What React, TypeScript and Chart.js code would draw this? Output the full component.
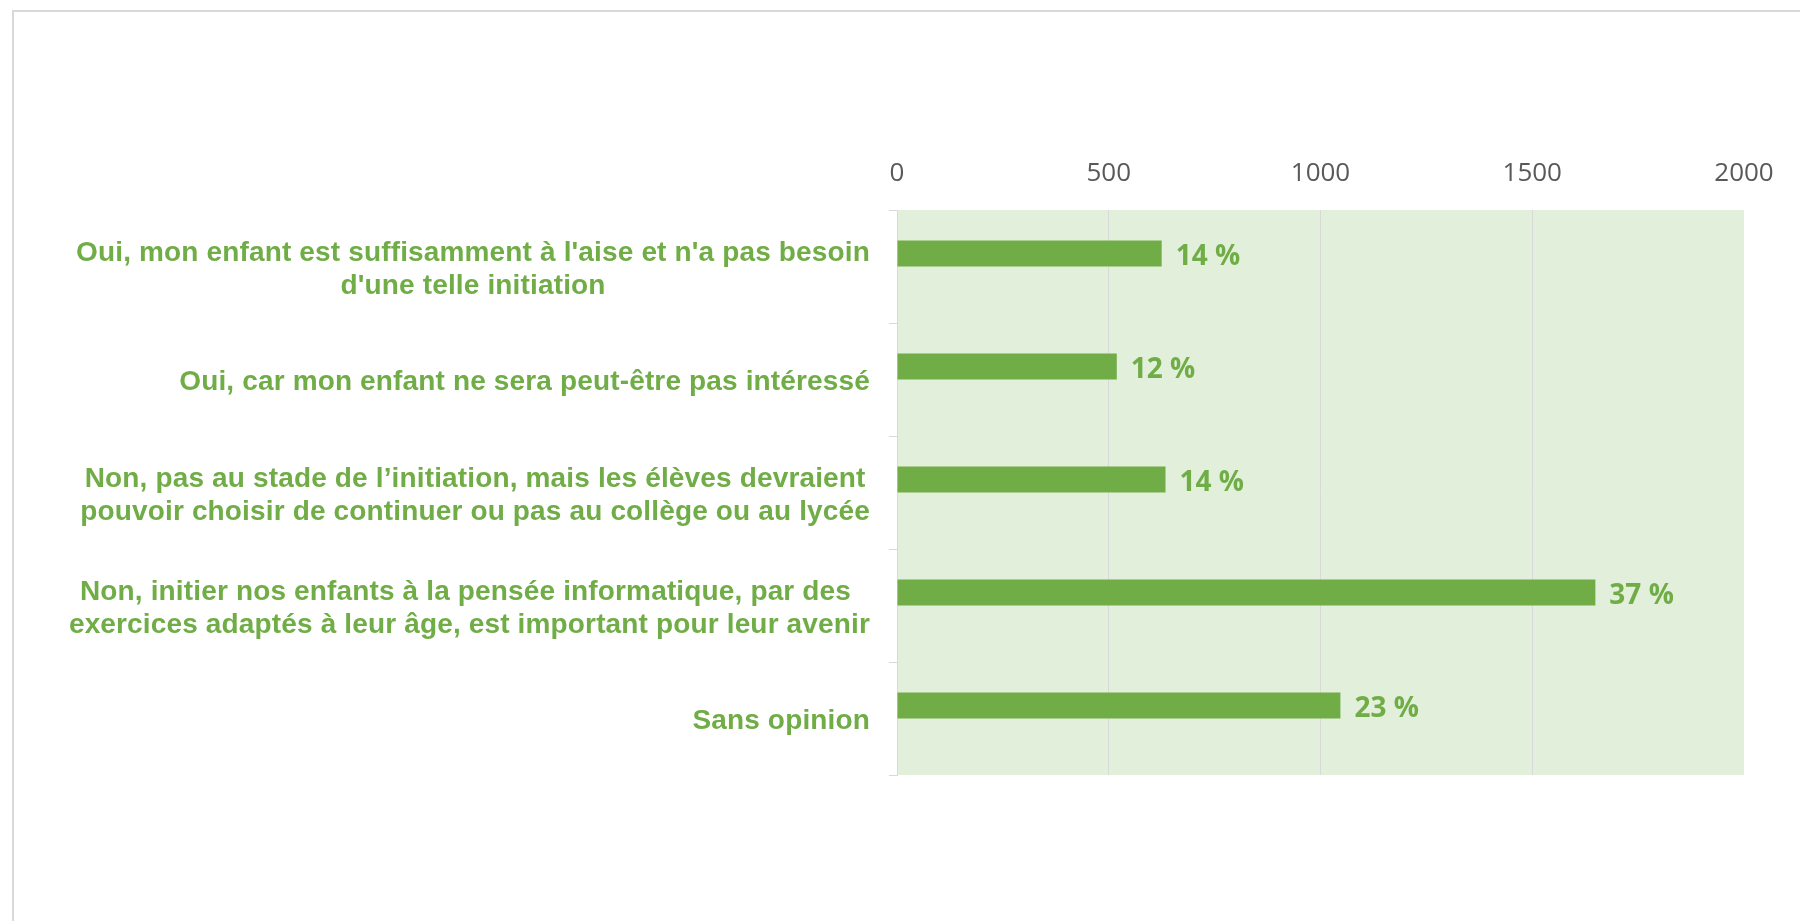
import React, { useEffect, useRef } from "react";
import { Chart, registerables } from "chart.js";

Chart.register(...registerables);

// Categories (each entry = lines of the label)
const categoryLines: string[][] = [
  ["Oui, mon enfant est suffisamment à l'aise et n'a pas besoin", "d'une telle initiation"],
  ["Oui, car mon enfant ne sera peut-être pas intéressé"],
  ["Non, pas au stade de l’initiation, mais les élèves devraient", "pouvoir choisir de continuer ou pas au collège ou au lycée"],
  ["Non, initier nos enfants à la pensée informatique, par des ", "exercices adaptés à leur âge, est important pour leur avenir"],
  ["Sans opinion"],
];
const categories = categoryLines.map((l) => l.join(" "));

// Number of responses per category
const responses = [625, 519, 634, 1649, 1047];
// Empty companion series (keeps bars in the upper half of each category, as in the original)
const emptySeries: (number | null)[] = [null, null, null, null, null];
// Percentage labels shown next to the bars
const percentLabels = [14, 12, 14, 37, 23];
// X axis ticks
const xMin = 0;
const xMax = 2000;
const xStep = 500;

const GREEN = "#70AD47";
const PLOT_BG = "#E2EFDA";
const GRID = "#D9D9D9";
const TICK_TEXT = "#595959";

export default function App() {
  const canvasRef = useRef<HTMLCanvasElement | null>(null);

  useEffect(() => {
    const canvas = canvasRef.current;
    if (!canvas) return;

    const plotBackground = {
      id: "plotBackground",
      beforeDraw(chart: any) {
        const { ctx, chartArea } = chart;
        ctx.save();
        ctx.fillStyle = PLOT_BG;
        ctx.fillRect(chartArea.left, chartArea.top, chartArea.right - chartArea.left, chartArea.bottom - chartArea.top);
        ctx.restore();
      },
    };

    const categoryLabels = {
      id: "categoryLabels",
      afterDraw(chart: any) {
        const { ctx } = chart;
        const yScale = chart.scales.y;
        const rightX = yScale.right - 27;
        const lineH = 33;
        ctx.save();
        ctx.font = 'bold 28px "Liberation Sans", Arial, sans-serif';
        try {
          (ctx as any).letterSpacing = "0.15px";
        } catch (e) {}
        ctx.fillStyle = GREEN;
        ctx.textAlign = "center";
        ctx.textBaseline = "middle";
        categoryLines.forEach((lines, i) => {
          const y = yScale.getPixelForValue(i) + 3;
          const widths = lines.map((t) => ctx.measureText(t.trimEnd()).width);
          const blockW = Math.max(...widths);
          const cx = rightX - blockW / 2;
          const startY = y - ((lines.length - 1) * lineH) / 2;
          lines.forEach((t, j) => {
            ctx.fillText(t, cx, startY + j * lineH);
          });
        });
        ctx.restore();
      },
    };

    const dataLabels = {
      id: "dataLabels",
      afterDatasetsDraw(chart: any) {
        const { ctx } = chart;
        const meta = chart.getDatasetMeta(0);
        ctx.save();
        ctx.font = 'bold 28px "Open Sans", sans-serif';
        ctx.fillStyle = GREEN;
        ctx.textAlign = "left";
        ctx.textBaseline = "middle";
        meta.data.forEach((el: any, i: number) => {
          ctx.fillText(`${percentLabels[i]} %`, el.x + 14, el.y + 4);
        });
        ctx.restore();
      },
    };

    const chart = new Chart(canvas, {
      type: "bar",
      data: {
        labels: categories,
        datasets: [
          {
            data: responses,
            backgroundColor: GREEN,
            borderWidth: 0,
            barPercentage: 1,
            categoryPercentage: 0.46,
          },
          {
            data: emptySeries as any,
            backgroundColor: GREEN,
            borderWidth: 0,
            barPercentage: 1,
            categoryPercentage: 0.46,
          },
        ],
      },
      options: {
        indexAxis: "y",
        responsive: false,
        animation: false,
        events: [],
        layout: { padding: { top: 159, right: 56, bottom: 146, left: 0 } },
        plugins: {
          legend: { display: false },
          tooltip: { enabled: false },
          title: { display: false },
        },
        scales: {
          x: {
            type: "linear",
            position: "top",
            min: xMin,
            max: xMax,
            ticks: {
              stepSize: xStep,
              color: TICK_TEXT,
              padding: 21,
              font: { family: '"Open Sans", sans-serif', size: 26 },
              callback: (v: any) => String(v),
            },
            grid: {
              drawTicks: false,
              color: (c: any) => (c.tick && c.tick.value === xMax ? "rgba(0,0,0,0)" : GRID),
              lineWidth: 1,
            },
            border: { display: false },
            afterFit: (scale: any) => {
              scale.height = 51;
            },
          },
          y: {
            type: "category",
            ticks: { display: false },
            grid: {
              drawOnChartArea: false,
              drawTicks: true,
              tickLength: 8,
              color: GRID,
              offset: true,
            },
            border: { display: true, color: GRID, width: 1 },
            afterFit: (scale: any) => {
              scale.width = 897;
            },
          },
        },
      },
      plugins: [plotBackground, categoryLabels, dataLabels],
    });

    return () => {
      chart.destroy();
    };
  }, []);

  return (
    <div
      style={{
        position: "fixed",
        left: 0,
        top: 0,
        width: 1800,
        height: 921,
        background: "#ffffff",
        overflow: "hidden",
      }}
    >
      <div
        style={{
          position: "absolute",
          left: 12,
          top: 10,
          width: 1900,
          height: 1000,
          borderLeft: "2px solid #D9D9D9",
          borderTop: "2px solid #D9D9D9",
        }}
      />
      <canvas
        ref={canvasRef}
        width={1800}
        height={921}
        style={{ position: "absolute", left: 0, top: 0, width: 1800, height: 921 }}
      />
    </div>
  );
}
